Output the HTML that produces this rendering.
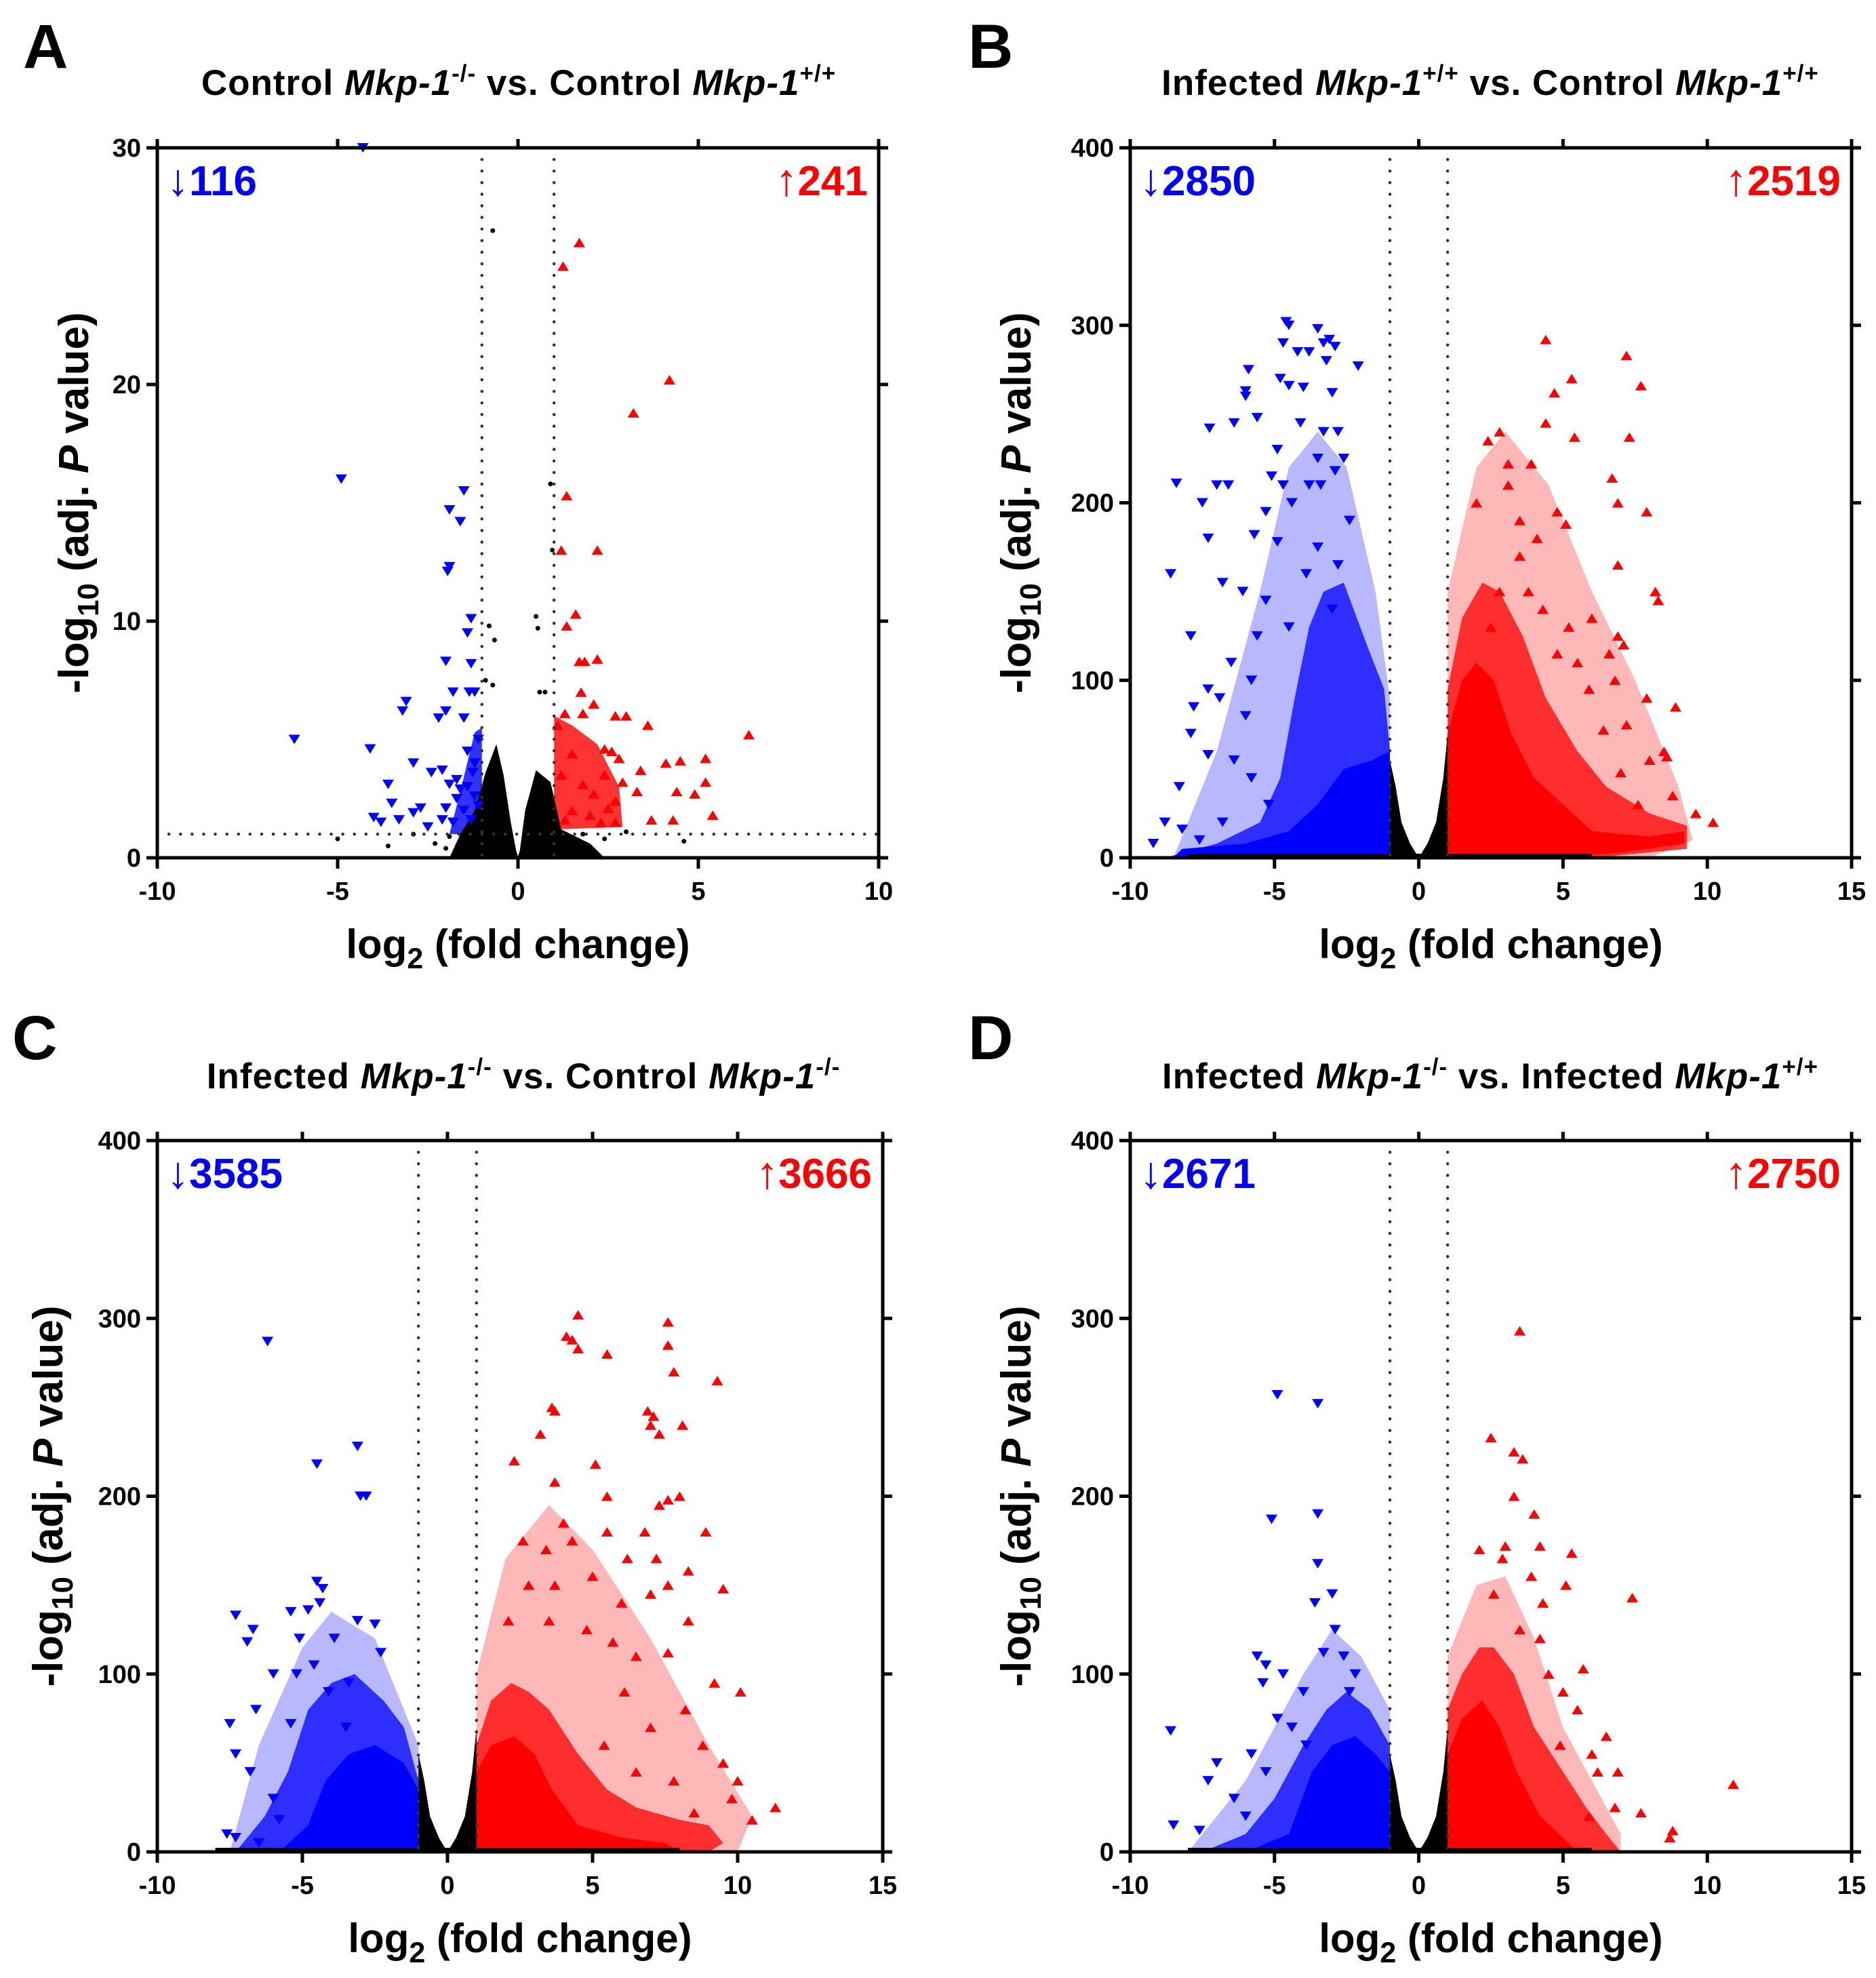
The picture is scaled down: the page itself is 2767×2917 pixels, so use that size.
<!DOCTYPE html>
<html><head><meta charset="utf-8"><style>
html,body{margin:0;padding:0;background:#fff;}
svg{display:block;font-family:"Liberation Sans",Arial,sans-serif;}
</style></head><body>
<svg id="fig" width="2767" height="2917" viewBox="0 0 2767 2917" xmlns="http://www.w3.org/2000/svg"></svg>
<script>
// ---------- data ----------
const xTicksA = [-10,-5,0,5,10];
const xTicksB = [-10,-5,0,5,10,15];
const yTicksA = [0,10,20,30];
const yTicksB = [0,100,200,300,400];
const countsDown = [116, 2850, 3585, 2671];
const countsUp = [241, 2519, 3666, 2750];

// Panel A
const blueA = [[-4.3,30],[-4.9,16],[-6.2,5],[-1.5,15.5],[-1.9,14.7],[-1.6,14.2],[-1.9,12.3],[-1.95,12.1],[-1.3,10.1],[-1.4,9.5],[-2,8.3],[-1.3,8.2],[-1.8,7],[-1.35,7],[-1.2,7],[-2,6.2],[-3.1,6.6],[-3.2,6.2],[-2.2,5.9],[-1.5,5.9],[-4.1,4.6],[-2.9,4],[-2.4,3.6],[-2.1,3.7],[-3.6,3.1],[-3.5,2.3],[-4,1.7],[-3.8,1.5],[-3.3,1.6],[-2.9,1.9],[-2.7,2.1],[-2.5,1.3],[-2.0,2.1],[-1.8,1.5],[-2.1,1.6],[-1.7,2.5],[-1.4,3],[-1.2,4],[-1.6,2.9],[-1.1,5],[-1.25,3.6],[-1.9,3.1],[-1.5,2.0],[-1.3,1.6],[-1.1,2.2],[-1.7,3.3],[-1.2,2.6],[-1.4,4.5]];
const redA = [[1.7,26],[1.25,25],[4.2,20.2],[3.2,18.8],[1.35,15.3],[1.2,13],[2.2,13],[1.6,10.3],[1.35,9.8],[1.7,8.3],[1.85,8.3],[2.2,8.4],[1.75,7],[2.1,6.5],[1.8,6.1],[1.3,6.1],[1.1,5.6],[2.7,6],[3,6],[3.6,5.6],[6.4,5.2],[2.4,4.6],[2.6,4.5],[2.8,4.2],[4.5,4.1],[4.1,4],[5.2,4.2],[3.4,3.7],[2.9,3.2],[3.3,2.8],[4.4,2.8],[4.9,2.7],[5.2,3.2],[3.7,1.6],[4.3,1.6],[5.4,1.8],[2.7,2.4],[2.5,2.1],[1.5,2.0],[2.0,1.8],[2.3,1.5],[1.3,1.6],[1.8,3.1],[2.4,3.5],[1.5,4.4],[1.2,3.5],[2.7,1.5],[2.1,2.7]];
const blackA = [[-0.7,26.5],[0.9,15.8],[0.95,13],[0.5,10.2],[0.55,9.7],[-0.8,9.8],[-0.65,9.2],[-0.9,7.5],[-0.7,7.3],[0.75,7],[0.6,7],[-5,0.8],[-3.6,0.5],[-2.9,1],[4.6,0.7],[-2.3,0.6],[-1.9,0.9],[-1.3,1.2],[-2.0,0.4],[1.8,1.0],[2.4,0.8],[-1.6,0.6],[3.0,1.1]];
const blackCloudA = [[-1.9,0],[-1.6,1.0],[-1.2,2.0],[-0.9,3.6],[-0.6,4.8],[-0.4,3.5],[-0.2,1.5],[-0.05,0.3],[0,0.05],[0.05,0.3],[0.2,2.0],[0.5,3.7],[0.9,3.2],[1.2,1.2],[2.0,0.6],[2.4,0]];
const blueCloudA = [[-1.9,1.0],[-1.6,2.8],[-1.2,5.3],[-1.0,5.5],[-1.0,1.0]];
const redCloudA = [[1.0,1.2],[1.0,6.0],[1.5,5.6],[2.2,4.8],[2.8,3.0],[2.9,1.3]];

// Panel B
const blueB = [[-4.6,302],[-4.5,300],[-3.5,298],[-3.1,292],[-3.3,290],[-2.9,288],[-4.7,290],[-4.2,285],[-3.8,285],[-3.2,280],[-2.1,277],[-5.9,275],[-6.0,263],[-6.0,260],[-4.8,270],[-4.5,266],[-4.0,265],[-3.0,262],[-5.6,248],[-6.4,245],[-7.25,242],[-4.1,245],[-3.3,240],[-2.8,240],[-4.9,230],[-3.5,225],[-2.6,225],[-8.4,211],[-7.5,200],[-7.0,210],[-6.6,210],[-5.1,215],[-4.7,210],[-3.8,210],[-2.9,218],[-3.4,210],[-4.4,200],[-5.3,195],[-7.3,180],[-5.7,182],[-4.9,178],[-3.5,175],[-2.4,190],[-8.6,160],[-6.8,155],[-6.1,150],[-5.3,145],[-3.9,160],[-2.8,165],[-7.9,125],[-6.5,110],[-5.6,125],[-4.5,130],[-3.0,140],[-7.8,85],[-7.3,95],[-6.9,90],[-5.8,100],[-6.0,80],[-7.9,70],[-7.3,58],[-8.3,40],[-6.4,55],[-5.8,45],[-8.8,20],[-9.2,8],[-8.2,16],[-7.6,10],[-6.8,20],[-5.2,30]];
const redB = [[4.4,292],[7.2,283],[7.7,266],[5.3,270],[4.7,262],[4.4,245],[7.3,237],[2.4,235],[2.8,240],[5.4,237],[3.1,222],[3.9,222],[6.7,214],[2.0,200],[3.1,210],[3.5,190],[4.8,195],[5.1,188],[6.9,200],[7.9,195],[4.1,180],[3.5,170],[6.9,165],[8.2,150],[8.3,145],[2.8,150],[3.8,150],[4.3,140],[5.2,130],[6.0,135],[6.9,125],[6.6,115],[7.1,120],[2.5,130],[4.8,115],[5.5,110],[8.9,85],[8.6,57],[8.8,35],[7.6,30],[9.6,25],[10.2,20],[7.9,90],[7.2,75],[6.4,72],[5.9,95],[8.0,55],[7.0,48],[8.5,60],[6.8,100]];
const blueSparseB = [[-8.5,0],[-7,60],[-5.5,150],[-4.5,220],[-3.5,240],[-2.5,220],[-1.5,150],[-1,90],[-1,0]];
const blueSemiB = [[-8.8,0],[-7,8],[-5.5,20],[-4.8,45],[-4.3,90],[-3.8,130],[-3.3,150],[-2.6,155],[-1.8,120],[-1.2,95],[-1,60],[-1,0]];
const blueSolidB = [[-8.5,0],[-8.2,5],[-6,8],[-4.5,15],[-3.5,30],[-2.6,50],[-1.6,55],[-1,60],[-1,0]];
const redSparseB = [[1,0],[1,150],[2,220],[3,240],[4.5,210],[6,150],[7.5,100],[9,40],[9.5,10],[8,0]];
const redSemiB = [[1,0],[1,95],[1.5,135],[2.2,155],[2.8,150],[3.6,125],[4.4,90],[5.5,60],[6.5,40],[8,25],[9.3,18],[9.3,5],[6,0]];
const redSolidB = [[1,0],[1,70],[1.5,100],[2,110],[2.6,100],[3.2,70],[4,45],[5,30],[6,15],[8,12],[9.2,15],[9.2,8],[7,3],[5,0]];

// Panel C
const blueC = [[-6.2,287],[-3.1,228],[-3.0,200],[-2.8,200],[-4.5,218],[-4.5,152],[-4.3,148],[-4.4,140],[-7.3,133],[-6.9,118],[-6.7,125],[-5.4,135],[-4.8,136],[-3.1,130],[-2.5,128],[-3.9,120],[-5.1,120],[-6.0,100],[-5.2,100],[-2.3,112],[-6.6,80],[-7.5,72],[-7.3,55],[-6.8,45],[-5.4,72],[-3.5,70],[-4.1,90],[-6.0,30],[-7.6,10],[-7.3,8],[-6.5,5],[-5.8,18],[-4.6,105],[-3.4,95]];
const redC = [[4.5,302],[4.1,290],[4.3,288],[7.6,298],[7.6,285],[7.8,270],[4.5,283],[5.5,280],[9.3,265],[3.6,250],[3.7,248],[6.9,248],[7.1,245],[7.0,240],[7.3,235],[8.1,240],[3.2,235],[2.3,220],[5.1,218],[3.7,208],[5.5,200],[7.3,195],[7.6,198],[8.0,200],[2.6,175],[4.0,185],[5.5,180],[6.8,180],[8.9,180],[3.4,170],[4.3,175],[6.2,165],[7.2,165],[7.6,150],[9.5,148],[8.3,158],[2.8,150],[3.7,150],[5.0,155],[6.0,140],[7.0,145],[8.3,130],[2.1,130],[3.5,130],[4.8,125],[5.7,118],[6.5,110],[7.6,112],[10.1,90],[9.2,95],[8.2,80],[6.1,90],[7.0,70],[8.8,60],[9.5,50],[10.0,40],[10.5,18],[11.3,25],[9.8,30],[8.5,22],[6.5,45],[5.4,60],[7.8,40]];
const blueSparseC = [[-7.5,0],[-6.5,60],[-5,115],[-4,135],[-2.5,120],[-1,60],[-1,0]];
const blueSemiC = [[-7.3,0],[-6.3,20],[-5.5,45],[-4.8,80],[-4.0,95],[-3.2,100],[-2.2,85],[-1.5,70],[-1,40],[-1,0]];
const blueSolidC = [[-5.8,0],[-4.8,15],[-4.2,40],[-3.4,55],[-2.5,60],[-1.5,50],[-1,35],[-1,0]];
const redSparseC = [[1,0],[1,100],[2,165],[3.5,195],[5,170],[7,120],[9,60],[10.5,20],[10,0]];
const redSemiC = [[1,0],[1,60],[1.5,85],[2.2,95],[2.8,90],[3.5,80],[4.5,55],[5.5,35],[6.5,25],[8,18],[9,15],[9.5,5],[9,0]];
const redSolidC = [[1,0],[1,45],[1.5,60],[2.3,65],[3,55],[3.6,35],[4.5,15],[6,8],[7.5,5],[8,0]];

// Panel D
const blueD = [[-4.9,257],[-3.5,252],[-5.1,187],[-3.5,190],[-3.5,162],[-3.0,145],[-3.6,140],[-2.9,125],[-3.3,112],[-2.6,110],[-4.7,100],[-5.6,110],[-5.3,105],[-5.4,95],[-4.0,90],[-2.2,100],[-8.6,68],[-8.5,15],[-7.3,40],[-7.0,50],[-6.4,30],[-7.6,12],[-5.8,55],[-5.3,45],[-4.9,75],[-2.4,90],[-3.9,60],[-4.4,70],[-6.0,20]];
const redD = [[3.5,293],[2.5,233],[3.3,225],[3.6,221],[4.0,190],[3.3,200],[3.0,172],[4.2,172],[5.3,168],[5.1,150],[7.4,143],[2.1,170],[2.9,165],[3.9,155],[4.3,140],[2.6,145],[3.5,125],[4.2,120],[5.7,103],[5.5,80],[6.0,55],[6.2,45],[6.5,65],[6.9,45],[5.0,90],[4.5,100],[10.9,38],[8.8,12],[7.7,22],[8.7,8],[6.8,25],[5.9,20],[4.9,60]];
const blueSparseD = [[-8,0],[-6,40],[-4,100],[-3,125],[-2,110],[-1,80],[-1,0]];
const blueSemiD = [[-7.5,0],[-6,10],[-5,30],[-4,60],[-3.2,80],[-2.5,90],[-1.7,80],[-1,60],[-1,0]];
const blueSolidD = [[-6,0],[-4.5,10],[-3.7,45],[-3,60],[-2.2,65],[-1.5,55],[-1,45],[-1,0]];
const redSparseD = [[1,0],[1,110],[2,150],[3,155],[4,120],[5,70],[6,40],[7,10],[7,0]];
const redSemiD = [[1,0],[1,80],[1.5,100],[2.1,115],[2.6,115],[3.3,100],[4.0,70],[5,45],[5.8,25],[6.5,10],[7,0]];
const redSolidD = [[1,0],[1,55],[1.5,75],[2.2,85],[2.8,70],[3.4,45],[4.2,20],[5,8],[5.5,0]];

const blackCloudV = [[-1,0],[-1,55],[-0.8,40],[-0.6,20],[-0.3,8],[0,0],[0.3,8],[0.6,20],[0.85,45],[1,70],[1,0]];

// ---------- drawing ----------
const NS = "http://www.w3.org/2000/svg";
const svg = document.getElementById('fig');
function mk(tag, attrs, parent){
  const e = document.createElementNS(NS, tag);
  for (const k in attrs) e.setAttribute(k, attrs[k]);
  (parent||svg).appendChild(e);
  return e;
}

function drawPanel(p){
  const g = mk('g', {});
  
  
  const sx = x => p.L + (x - p.xmin)/(p.xmax - p.xmin)*(p.R - p.L);
  const sy = y => p.B - (y - p.ymin)/(p.ymax - p.ymin)*(p.B - p.T);
  const clipId = 'clip' + p.id;
  const cp = mk('clipPath', {id: clipId}, g);
  mk('rect', {x:p.L, y:p.T-10, width:p.R-p.L, height:p.B-p.T+10}, cp);
  const plot = mk('g', {'clip-path':'url(#'+clipId+')'}, g);
  
  

  const poly = (pts, fill, op, name) => {
    const e = mk('polygon', {points: pts.map(q => sx(q[0]).toFixed(1)+','+sy(q[1]).toFixed(1)).join(' '), fill: fill, 'fill-opacity': op}, plot);
    
    
  };
  if (p.blueSparse) poly(p.blueSparse, '#0000ff', 0.28, 'down-regulated-sparse');
  if (p.redSparse) poly(p.redSparse, '#ff0000', 0.28, 'up-regulated-sparse');
  if (p.blueSemi) poly(p.blueSemi, '#0000ff', 0.75, 'down-regulated-cloud');
  if (p.redSemi) poly(p.redSemi, '#ff0000', 0.75, 'up-regulated-cloud');
  poly(p.blueSolid, '#0000ff', p.id==='A'?0.8:1, 'down-regulated-dense');
  poly(p.redSolid, '#ff0000', p.id==='A'?0.8:1, 'up-regulated-dense');
  poly(p.black, '#000', 1, 'non-significant-cloud');
  if (p.id !== 'A') {
    const bl = mk('line', {x1:sx(p.bandMin), x2:sx(p.bandMax), y1:p.B-3, y2:p.B-3, stroke:'#000', 'stroke-width':6}, plot);
    
    
  }
  const h = 14, w = 8.5;
  p.blue.forEach(q => {
    const X = sx(q[0]), Y = sy(q[1]);
    const t = mk('polygon', {points: `${X-w},${Y-h/2} ${X+w},${Y-h/2} ${X},${Y+h/2}`, fill:'#0000ff'}, plot);
    
    
  });
  p.red.forEach(q => {
    const X = sx(q[0]), Y = sy(q[1]);
    const t = mk('polygon', {points: `${X-w},${Y+h/2} ${X+w},${Y+h/2} ${X},${Y-h/2}`, fill:'#ff0000'}, plot);
    
    
  });
  (p.blackPts||[]).forEach(q => {
    const c = mk('circle', {cx:sx(q[0]), cy:sy(q[1]), r:3.5, fill:'#000'}, plot);
    
    
  });

  // threshold lines
  [-1, 1].forEach(v => {
    const l = mk('line', {x1:sx(v), x2:sx(v), y1:p.T, y2:p.B, stroke:'#333', 'stroke-width':4.5, 'stroke-dasharray':'0.1 17', 'stroke-linecap':'round'}, g);
    
    
  });
  if (p.hline !== undefined) {
    const l = mk('line', {x1:p.L, x2:p.R, y1:sy(p.hline), y2:sy(p.hline), stroke:'#333', 'stroke-width':4.5, 'stroke-dasharray':'0.1 17', 'stroke-linecap':'round'}, g);
    
    
  }

  // frame
  const fr = mk('rect', {x:p.L, y:p.T, width:p.R-p.L, height:p.B-p.T, fill:'none', stroke:'#000', 'stroke-width':5}, g);
  
  

  // ticks
  p.xTicks.forEach(v => {
    const X = sx(v);
    const t1 = mk('line', {x1:X, x2:X, y1:p.B, y2:p.B+16, stroke:'#000', 'stroke-width':5}, g);
    
    
    const t2 = mk('line', {x1:X, x2:X, y1:p.T, y2:p.T-13, stroke:'#000', 'stroke-width':5}, g);
    
    
    const lb = mk('text', {x:X, y:p.B+62, 'text-anchor':'middle', 'font-size':38, 'font-weight':'bold', fill:'#000'}, g);
    lb.textContent = v;
    
    
  });
  p.yTicks.forEach(v => {
    const Y = sy(v);
    const t1 = mk('line', {x1:p.L-16, x2:p.L, y1:Y, y2:Y, stroke:'#000', 'stroke-width':5}, g);
    
    
    const t2 = mk('line', {x1:p.R, x2:p.R+14, y1:Y, y2:Y, stroke:'#000', 'stroke-width':5}, g);
    
    
    const lb = mk('text', {x:p.L-24, y:Y+13, 'text-anchor':'end', 'font-size':38, 'font-weight':'bold', fill:'#000'}, g);
    lb.textContent = v;
    
    
  });

  // axis titles
  const xt = mk('text', {x:(p.L+p.R)/2, y:p.B+148, 'text-anchor':'middle', 'font-size':60, 'font-weight':'bold', fill:'#000'}, g);
  xt.innerHTML = 'log<tspan dy="15" font-size="43">2</tspan><tspan dy="-15"> (fold change)</tspan>';
  
  
  const cy = (p.T+p.B)/2;
  const yt = mk('text', {x:0, y:0, 'text-anchor':'middle', 'font-size':62, 'font-weight':'bold', fill:'#000', transform:`translate(${p.ytx},${cy}) rotate(-90)`}, g);
  yt.innerHTML = '-log<tspan dy="15" font-size="44">10</tspan><tspan dy="-15"> (adj. </tspan><tspan font-style="italic">P</tspan> value)';
  
  

  // counts
  const cd = mk('text', {x:p.L+14, y:p.T+70, 'font-size':62, 'font-weight':'bold', fill:'#0000ff'}, g);
  cd.innerHTML = '<tspan font-weight="normal" font-size="66">\u2193</tspan>' + p.down;
  
  
  const cu = mk('text', {x:p.R-16, y:p.T+70, 'text-anchor':'end', 'font-size':62, 'font-weight':'bold', fill:'#ff0000'}, g);
  cu.innerHTML = '<tspan font-weight="normal" font-size="66">\u2191</tspan>' + p.up;
  
  

  // title
  const tt = mk('text', {x:p.tcx, y:p.tby, 'text-anchor':'middle', 'font-size':53, 'font-weight':'bold', 'letter-spacing':'1', fill:'#000'}, g);
  const sup = s => `<tspan dy="-20" font-size="35">${s}</tspan><tspan dy="20"> </tspan>`;
  tt.innerHTML = `${p.t1} <tspan font-style="italic">Mkp-1</tspan>${sup(p.s1)}vs. ${p.t2} <tspan font-style="italic">Mkp-1</tspan><tspan dy="-20" font-size="35">${p.s2}</tspan>`;
  
  

  const pl = mk('text', {x:p.lx, y:p.ly, 'font-size':92, 'font-weight':'bold', fill:'#000'}, g);
  pl.textContent = p.id;
  
  
}

drawPanel({id:'A', L:232, R:1296, T:218, B:1265, xmin:-10, xmax:10, ymin:0, ymax:30, xTicks:xTicksA, yTicks:yTicksA,
  blue:blueA, red:redA, blackPts:blackA, black:blackCloudA, blueSolid:blueCloudA, redSolid:redCloudA, hline:1,
  down:countsDown[0], up:countsUp[0], ytx:130, tcx:765, tby:140, t1:'Control', s1:'-/-', t2:'Control', s2:'+/+', lx:34, ly:100});
drawPanel({id:'B', L:1667, R:2731, T:218, B:1265, xmin:-10, xmax:15, ymin:0, ymax:400, xTicks:xTicksB, yTicks:yTicksB,
  blue:blueB, red:redB, black:blackCloudV, blueSparse:blueSparseB, blueSemi:blueSemiB, blueSolid:blueSolidB, redSparse:redSparseB, redSemi:redSemiB, redSolid:redSolidB, bandMin:-8, bandMax:6,
  down:countsDown[1], up:countsUp[1], ytx:1520, tcx:2198, tby:140, t1:'Infected', s1:'+/+', t2:'Control', s2:'+/+', lx:1428, ly:100});
drawPanel({id:'C', L:232, R:1302, T:1682, B:2731, xmin:-10, xmax:15, ymin:0, ymax:400, xTicks:xTicksB, yTicks:yTicksB,
  blue:blueC, red:redC, black:blackCloudV, blueSparse:blueSparseC, blueSemi:blueSemiC, blueSolid:blueSolidC, redSparse:redSparseC, redSemi:redSemiC, redSolid:redSolidC, bandMin:-8, bandMax:8,
  down:countsDown[2], up:countsUp[2], ytx:92, tcx:772, tby:1605, t1:'Infected', s1:'-/-', t2:'Control', s2:'-/-', lx:18, ly:1562});
drawPanel({id:'D', L:1667, R:2731, T:1682, B:2731, xmin:-10, xmax:15, ymin:0, ymax:400, xTicks:xTicksB, yTicks:yTicksB,
  blue:blueD, red:redD, black:blackCloudV, blueSparse:blueSparseD, blueSemi:blueSemiD, blueSolid:blueSolidD, redSparse:redSparseD, redSemi:redSemiD, redSolid:redSolidD, bandMin:-8, bandMax:6,
  down:countsDown[3], up:countsUp[3], ytx:1520, tcx:2198, tby:1605, t1:'Infected', s1:'-/-', t2:'Infected', s2:'+/+', lx:1428, ly:1562});
</script>
</body></html>
